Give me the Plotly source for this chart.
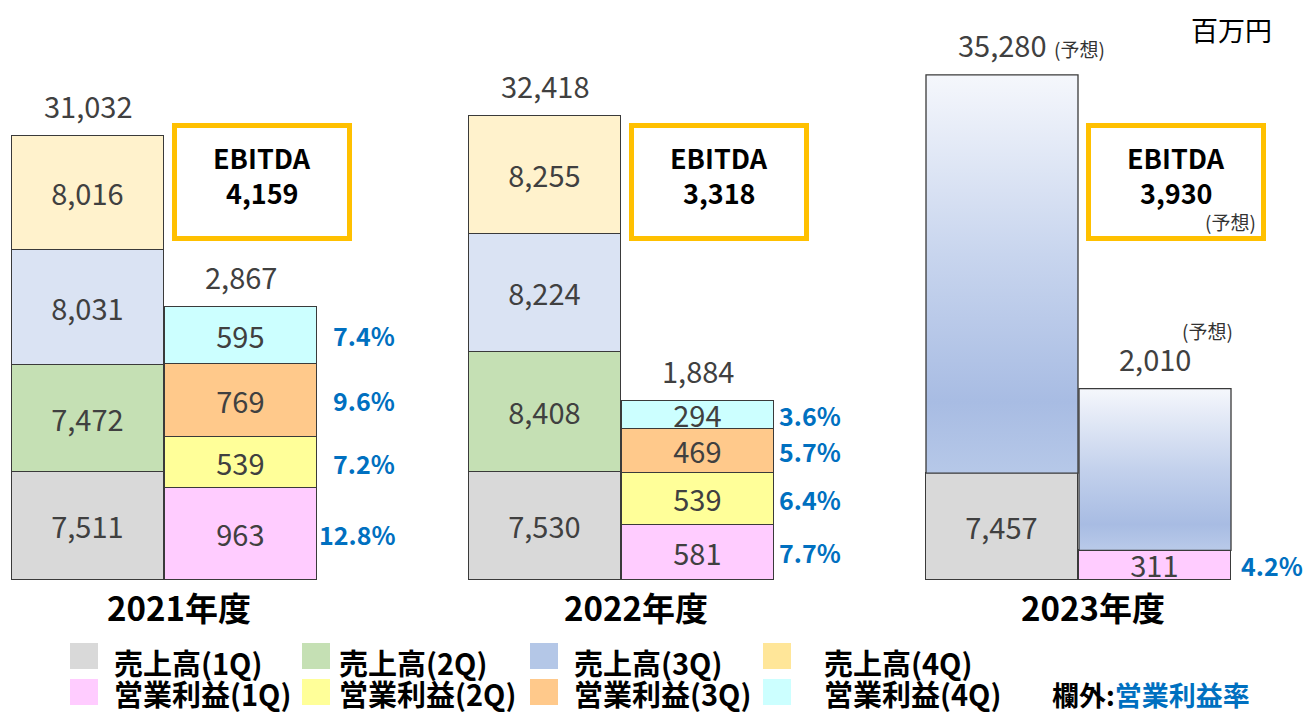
import plotly.graph_objects as go

# ---------------- data ----------------
years = ["2021年度", "2022年度", "2023年度"]
quarters = ["1Q", "2Q", "3Q", "4Q"]
sales_2021 = [7511, 7472, 8031, 8016]
sales_2022 = [7530, 8408, 8224, 8255]
sales_2023 = [7457]            # 1Q actual, remainder is forecast
sales_totals = [31032, 32418, 35280]
profit_2021 = [963, 539, 769, 595]
profit_2022 = [581, 539, 469, 294]
profit_2023 = [311]
profit_totals = [2867, 1884, 2010]
ebitda = [4159, 3318, 3930]
forecast = [False, False, True]

sales_colors = ["#d9d9d9", "#c5e0b4", "#dae3f3", "#fff2cc"]
sales_legend_colors = ["#d9d9d9", "#c5e0b4", "#b4c7e7", "#ffe699"]
profit_colors = ["#ffccff", "#ffff99", "#ffc98b", "#ccffff"]

# ---------------- layout constants ----------------
W, H = 1308, 713
FONT = "Noto Sans CJK JP"
GRAY_TXT = "#404040"
BLUE_TXT = "#0070c0"
EDGE = "#3a3a3a"
GROUP_PX = 457.0
ORIGIN_PX = 164.5
BASE_PX = 580.0
K_SALES = 0.01432   # px per unit on sales axis
K_PROFIT = 0.0952   # px per unit on profit axis
BAR_W = 152.0 / GROUP_PX
OFF = 76.5 / GROUP_PX
PCT_RIGHT = [80, 69, 74]   # px from profit bar right edge to margin label right edge

def ppx(x):
    return x / W

def ppy(y):
    return 1 - y / H

sales_by_year = [sales_2021, sales_2022, sales_2023]
profit_by_year = [profit_2021, profit_2022, profit_2023]
sales_x = [i - OFF for i in range(len(years))]
profit_x = [i + OFF for i in range(len(years))]

fig = go.Figure()

# stacked quarterly bars
for q in range(len(quarters)):
    xs, ys = [], []
    for i, vals in enumerate(sales_by_year):
        if q < len(vals):
            xs.append(sales_x[i]); ys.append(vals[q])
    fig.add_trace(go.Bar(
        x=xs, y=ys, width=BAR_W, name="売上高(%s)" % quarters[q],
        marker=dict(color=sales_colors[q], line=dict(color=EDGE, width=1.3)),
        texttemplate="%{y:,}", textposition="inside", insidetextanchor="middle",
        textangle=0, constraintext="none",
        textfont=dict(family=FONT, size=29, color=GRAY_TXT),
        hoverinfo="skip", showlegend=False, yaxis="y"))
for q in range(len(quarters)):
    xs, ys = [], []
    for i, vals in enumerate(profit_by_year):
        if q < len(vals):
            xs.append(profit_x[i]); ys.append(vals[q])
    fig.add_trace(go.Bar(
        x=xs, y=ys, width=BAR_W, name="営業利益(%s)" % quarters[q],
        marker=dict(color=profit_colors[q], line=dict(color=EDGE, width=1.3)),
        texttemplate="%{y:,}", textposition="inside", insidetextanchor="middle",
        textangle=0, constraintext="none",
        textfont=dict(family=FONT, size=29, color=GRAY_TXT),
        hoverinfo="skip", showlegend=False, yaxis="y2"))

# forecast remainder (gradient fill)
for i in range(len(years)):
    if not forecast[i]:
        continue
    for cx, vals, tot, ax, cs in [
        (sales_x[i], sales_by_year[i], sales_totals[i], "y",
         [[0, "#b6c8e8"], [0.18, "#a8bce3"], [0.55, "#c8d5ee"], [1, "#f5f7fc"]]),
        (profit_x[i], profit_by_year[i], profit_totals[i], "y2",
         [[0, "#b9cae9"], [0.16, "#a8bce3"], [0.5, "#c3d1ec"], [1, "#f5f7fc"]]),
    ]:
        base = sum(vals)
        x0, x1 = cx - BAR_W / 2, cx + BAR_W / 2
        fig.add_trace(go.Scatter(
            x=[x0, x1, x1, x0, x0], y=[base, base, tot, tot, base],
            mode="lines", fill="toself",
            fillgradient=dict(type="vertical", colorscale=cs),
            line=dict(color=EDGE, width=1.3),
            hoverinfo="skip", showlegend=False, yaxis=ax))

annotations = []
shapes = []

def ann(**kw):
    kw.setdefault("showarrow", False)
    kw.setdefault("xanchor", "center")
    kw.setdefault("yanchor", "middle")
    annotations.append(kw)

# totals above bars
for i in range(len(years)):
    ann(x=sales_x[i], y=sales_totals[i], xref="x", yref="y",
        text=f"{sales_totals[i]:,}", yshift=31,
        font=dict(family=FONT, size=29, color=GRAY_TXT))
    ann(x=profit_x[i], y=profit_totals[i], xref="x", yref="y2",
        text=f"{profit_totals[i]:,}", yshift=31,
        font=dict(family=FONT, size=29, color=GRAY_TXT))
    if forecast[i]:
        ann(x=sales_x[i] + 50 / GROUP_PX, y=sales_totals[i], xref="x", yref="y",
            text="(予想)", yshift=26, xanchor="left",
            font=dict(family=FONT, size=19, color="#333333"))
        ann(x=profit_x[i] + 52 / GROUP_PX, y=profit_totals[i], xref="x", yref="y2",
            text="(予想)", yshift=58,
            font=dict(family=FONT, size=19, color="#333333"))

# operating margin labels (profit / sales per quarter)
for i in range(len(years)):
    cum = 0
    for q, p in enumerate(profit_by_year[i]):
        mid = cum + p / 2
        cum += p
        pct = p / sales_by_year[i][q] * 100
        ann(x=profit_x[i] + BAR_W / 2 + PCT_RIGHT[i] / GROUP_PX, y=mid, xref="x", yref="y2",
            text=f"<b>{pct:.1f}%</b>", xanchor="right",
            font=dict(family=FONT, size=25, color=BLUE_TXT))

# EBITDA boxes
for i in range(len(years)):
    left = profit_x[i] - BAR_W / 2 + 7 / GROUP_PX
    right = left + 180 / GROUP_PX
    shapes.append(dict(type="rect", xref="x", yref="paper",
                       x0=left + 2.5 / GROUP_PX, x1=right - 2.5 / GROUP_PX,
                       y0=ppy(238.5), y1=ppy(125.5),
                       line=dict(color="#ffc000", width=5), fillcolor="white", layer="above"))
    cx = (left + right) / 2
    ann(x=cx, y=ppy(157), xref="x", yref="paper", text="<b>EBITDA</b>",
        font=dict(family=FONT, size=27, color="black"))
    ann(x=cx, y=ppy(192), xref="x", yref="paper", text=f"<b>{ebitda[i]:,}</b>",
        font=dict(family=FONT, size=27, color="black"))
    if forecast[i]:
        ann(x=right - 8 / GROUP_PX, y=ppy(221), xref="x", yref="paper", text="(予想)",
            xanchor="right", font=dict(family=FONT, size=19, color="#333333"))

# year labels
for i, yl in enumerate(years):
    ann(x=i + 14 / GROUP_PX, y=ppy(607), xref="x", yref="paper",
        text=f"<b>{yl}</b>", font=dict(family=FONT, size=33, color="black"))

# unit
ann(x=ppx(1231), y=ppy(30), xref="paper", yref="paper", text="百万円",
    font=dict(family=FONT, size=27, color="black"))

# custom legend
sw_x = [70, 302, 530, 763]
txt_x = [112, 337, 572, 822]
rows = [(656, 662, [f"売上高({q})" for q in quarters], sales_legend_colors),
        (692, 693, [f"営業利益({q})" for q in quarters], profit_colors)]
for sy, ty, labels, cols in rows:
    for k in range(4):
        shapes.append(dict(type="rect", xref="paper", yref="paper",
                           x0=ppx(sw_x[k]), x1=ppx(sw_x[k] + 28),
                           y0=ppy(sy + 13), y1=ppy(sy - 13),
                           line=dict(width=0), fillcolor=cols[k]))
        ann(x=ppx(txt_x[k]), y=ppy(ty), xref="paper", yref="paper",
            text=f"<b>{labels[k]}</b>", xanchor="left",
            font=dict(family=FONT, size=29, color="black"))
ann(x=ppx(1050), y=ppy(694), xref="paper", yref="paper",
    text="<b>欄外:</b><b><span style='color:#0070c0'>営業利益率</span></b>",
    xanchor="left", font=dict(family=FONT, size=27, color="black"))

fig.update_layout(
    width=W, height=H, margin=dict(l=0, r=0, t=0, b=0),
    paper_bgcolor="white", plot_bgcolor="white",
    barmode="stack", bargap=0, showlegend=False,
    xaxis=dict(range=[-ORIGIN_PX / GROUP_PX, (W - ORIGIN_PX) / GROUP_PX],
               visible=False, fixedrange=True),
    yaxis=dict(range=[-(H - BASE_PX) / K_SALES, BASE_PX / K_SALES], visible=False, fixedrange=True),
    yaxis2=dict(range=[-(H - BASE_PX) / K_PROFIT, BASE_PX / K_PROFIT], visible=False,
                overlaying="y", fixedrange=True),
    annotations=annotations, shapes=shapes,
    font=dict(family=FONT),
)

fig.write_html("out.html")
